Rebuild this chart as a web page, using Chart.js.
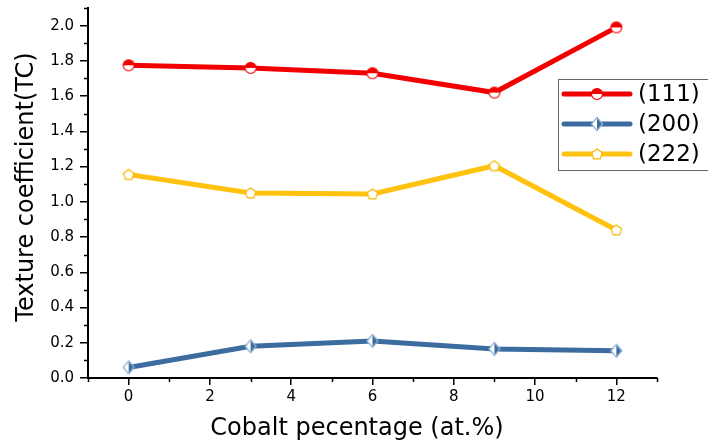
<!DOCTYPE html>
<html>
<head>
<meta charset="utf-8">
<script src="https://cdn.jsdelivr.net/npm/chart.js@4/dist/chart.umd.min.js"></script>
<style>
  html, body { margin: 0; padding: 0; background: #fff; overflow: hidden; }
  #wrap { width: 708px; height: 443px; position: relative; overflow: hidden; }
  #tcChart { position: absolute; left: 0; top: -5px; }
</style>
</head>
<body>
<div id="wrap"><canvas id="tcChart" width="708" height="448"></canvas></div>
<script>
// --- data ---
const cobalt = [0, 3, 6, 9, 12];
const tc111 = [1.775, 1.76, 1.73, 1.62, 1.99];
const tc200 = [0.06, 0.18, 0.21, 0.165, 0.155];
const tc222 = [1.155, 1.05, 1.045, 1.205, 0.84];
const seriesNames = ['(111)', '(200)', '(222)'];
const xTicks = [0, 2, 4, 6, 8, 10, 12];
const yTicks = [0, 0.2, 0.4, 0.6, 0.8, 1.0, 1.2, 1.4, 1.6, 1.8, 2.0];
const xTitle = 'Cobalt pecentage (at.%)';
const yTitle = 'Texture coefficient(TC)';

const RED = '#f20000';
const BLUE = '#3b6b9f';
const YELLOW = '#ffc20e';
const FONT = 'DejaVu Sans, Verdana, sans-serif';
const OFF = 5; // canvas is shifted up by this much

// marker images (half filled circle / diamond, open pentagon)
function makeMarker(kind, color) {
  const c = document.createElement('canvas');
  c.width = 16; c.height = 16;
  const g = c.getContext('2d');
  const cx = 8, cy = 8, r = 5.5;
  g.lineWidth = 1.2;
  g.strokeStyle = color;
  if (kind === 'circle') {
    g.fillStyle = '#fff';
    g.beginPath(); g.arc(cx, cy, r, 0, Math.PI * 2); g.fill();
    g.fillStyle = color;
    g.beginPath(); g.arc(cx, cy, r, Math.PI, 0); g.closePath(); g.fill();
    g.beginPath(); g.arc(cx, cy, r, 0, Math.PI * 2); g.stroke();
  } else if (kind === 'diamond') {
    g.fillStyle = '#fff';
    g.beginPath();
    g.moveTo(cx, cy - 6.5); g.lineTo(cx + 5.5, cy); g.lineTo(cx, cy + 6.5); g.lineTo(cx - 5.5, cy);
    g.closePath(); g.fill();
    g.fillStyle = color;
    g.beginPath();
    g.moveTo(cx, cy - 6.5); g.lineTo(cx + 5.5, cy); g.lineTo(cx, cy + 6.5);
    g.closePath(); g.fill();
    g.strokeStyle = '#8fb0d4';
    g.beginPath();
    g.moveTo(cx, cy - 6.5); g.lineTo(cx + 5.5, cy); g.lineTo(cx, cy + 6.5); g.lineTo(cx - 5.5, cy);
    g.closePath(); g.stroke();
  } else {
    g.fillStyle = '#fff';
    g.beginPath();
    for (let i = 0; i < 5; i++) {
      const a = -Math.PI / 2 + i * 2 * Math.PI / 5;
      const px = cx + r * Math.cos(a), py = cy + 0.5 + r * Math.sin(a);
      if (i === 0) g.moveTo(px, py); else g.lineTo(px, py);
    }
    g.closePath(); g.fill(); g.stroke();
  }
  return c;
}

const markers = [
  makeMarker('circle', RED),
  makeMarker('diamond', BLUE),
  makeMarker('pentagon', '#f5b800')
];
const colors = [RED, BLUE, YELLOW];
const values = [tc111, tc200, tc222];

const datasets = values.map((vals, i) => ({
  label: seriesNames[i],
  data: cobalt.map((x, j) => ({ x: x, y: vals[j] })),
  borderColor: colors[i],
  borderWidth: 5,
  pointStyle: markers[i],
  pointRadius: 8,
  tension: 0,
  fill: false
}));

// minor ticks, axis titles, legend box
const extras = {
  id: 'extras',
  afterDraw(chart) {
    const g = chart.ctx;
    const xs = chart.scales.x, ys = chart.scales.y;
    g.save();
    g.strokeStyle = '#000';
    g.lineWidth = 1.5;
    g.beginPath();
    for (let v = -1; v <= 13; v += 2) {
      const px = Math.round(xs.getPixelForValue(v)) + 0.5;
      g.moveTo(px, xs.top); g.lineTo(px, xs.top + 4);
    }
    for (let v = 0.1; v < 2.1; v += 0.2) {
      const py = Math.round(ys.getPixelForValue(v)) + 0.5;
      g.moveTo(ys.right, py); g.lineTo(ys.right - 4, py);
    }
    g.stroke();

    // axis titles
    g.fillStyle = '#000';
    g.font = '24px ' + FONT;
    g.textAlign = 'center';
    g.textBaseline = 'middle';
    g.fillText(xTitle, 357, 429 + OFF);
    g.save();
    g.translate(27, 187 + OFF);
    g.rotate(-Math.PI / 2);
    g.fillText(yTitle, 0, 0);
    g.restore();

    // legend
    const lx = 558, ly = 79 + OFF, lw = 160, lh = 91;
    g.lineWidth = 1;
    g.strokeStyle = '#666';
    g.strokeRect(lx + 0.5, ly + 0.5, lw, lh);
    g.font = '23px ' + FONT;
    g.textAlign = 'left';
    g.textBaseline = 'middle';
    seriesNames.forEach((name, i) => {
      const yy = ly + 15 + i * 30;
      g.strokeStyle = colors[i];
      g.lineWidth = 5;
      g.lineCap = 'round';
      g.beginPath(); g.moveTo(564, yy); g.lineTo(630, yy); g.stroke();
      g.drawImage(markers[i], 597 - 8, yy - 8);
      g.fillText(name, 638, yy + 1);
    });
    g.restore();
  }
};

new Chart(document.getElementById('tcChart'), {
  type: 'line',
  data: { datasets: datasets },
  options: {
    responsive: false,
    animation: false,
    layout: { padding: { top: 0, right: 51, left: 0, bottom: 0 } },
    plugins: { legend: { display: false }, tooltip: { enabled: false } },
    scales: {
      x: {
        type: 'linear',
        min: -1,
        max: 13,
        afterBuildTicks: s => { s.ticks = xTicks.map(v => ({ value: v })); },
        afterFit: s => { s.height = 65; s.paddingLeft = 0; s.paddingRight = 0; },
        border: { color: '#000', width: 2 },
        grid: { drawOnChartArea: false, tickLength: 7, color: '#000', lineWidth: 1.5 },
        ticks: { color: '#000', font: { family: FONT, size: 15 }, padding: 3, maxRotation: 0 },
        title: { display: false }
      },
      y: {
        min: 0,
        max: 2.1,
        afterBuildTicks: s => { s.ticks = yTicks.map(v => ({ value: v })); },
        afterFit: s => { s.width = 88; s.paddingTop = 0; s.paddingBottom = 0; },
        border: { color: '#000', width: 2 },
        grid: { drawOnChartArea: false, tickLength: 8, color: '#000', lineWidth: 1.5 },
        ticks: { color: '#000', font: { family: FONT, size: 15 }, padding: 6,
                 callback: v => v.toFixed(1) },
        title: { display: false }
      }
    }
  },
  plugins: [extras]
});
</script>
</body>
</html>
